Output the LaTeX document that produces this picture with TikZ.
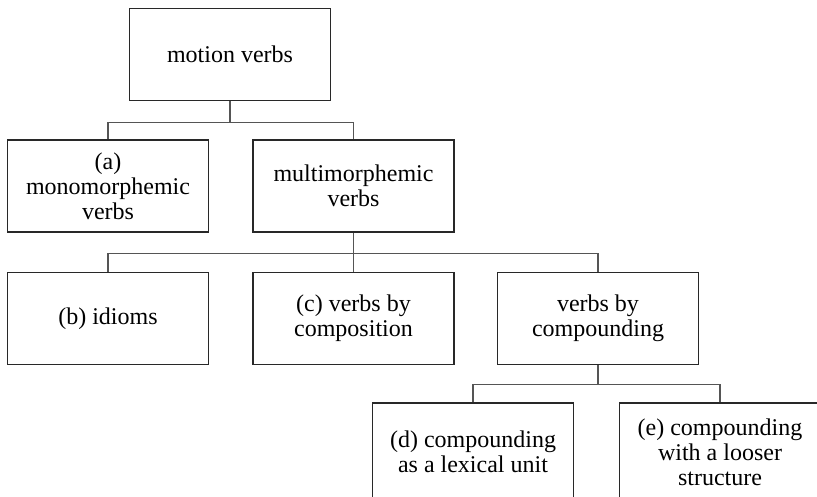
\documentclass[tikz,border=0pt]{standalone}
\usepackage{fontspec}
\setmainfont{Liberation Serif}
\usetikzlibrary{positioning}

\definecolor{boxgray}{RGB}{40, 40, 40}
\definecolor{linkgray}{RGB}{85, 85, 85}

\begin{document}
\begin{tikzpicture}[x=1pt, y=1pt,
    font=\fontsize{24}{25}\selectfont,
    box/.style={draw=boxgray, line width=1.1pt, minimum width=201pt, minimum height=92pt, align=center, inner sep=2pt},
    link/.style={draw=linkgray, line width=1.1pt}]

            \useasboundingbox (0,0) rectangle (817,-496);

            \node[box] (motion) at (230, -54.5) {motion verbs};

            \node[box] (mono) at (108, -186) {(a)\\monomorphemic\\verbs};
            \node[box] (multi) at (353.5, -186) {multimorphemic\\verbs};

            \node[box] (idioms) at (108, -318.5) {(b) idioms};
            \node[box] (compo) at (353.5, -318.5) {(c) verbs by\\composition};
            \node[box] (compound) at (598, -318.5) {verbs by\\compounding};

            % bottom row runs past the lower edge
            \node[box, minimum height=98pt] (lexical) at (473, -452) {(d) compounding\\as a lexical unit};
            \node[box, minimum height=98pt] (looser) at (720, -452) {(e) compounding\\with a looser\\structure};

            % tree links
            \draw[link] (motion.south) -- ++(0,-21) coordinate (j1) -| (mono.north);
            \draw[link] (j1) -| (multi.north);

            \draw[link] (multi.south) -- ++(0,-21) coordinate (j2) -| (idioms.north);
            \draw[link] (j2) -- (compo.north);
            \draw[link] (j2) -| (compound.north);

            \draw[link] (compound.south) -- ++(0,-19) coordinate (j3) -| (lexical.north);
            \draw[link] (j3) -| (looser.north);

        \end{tikzpicture}
\end{document}
